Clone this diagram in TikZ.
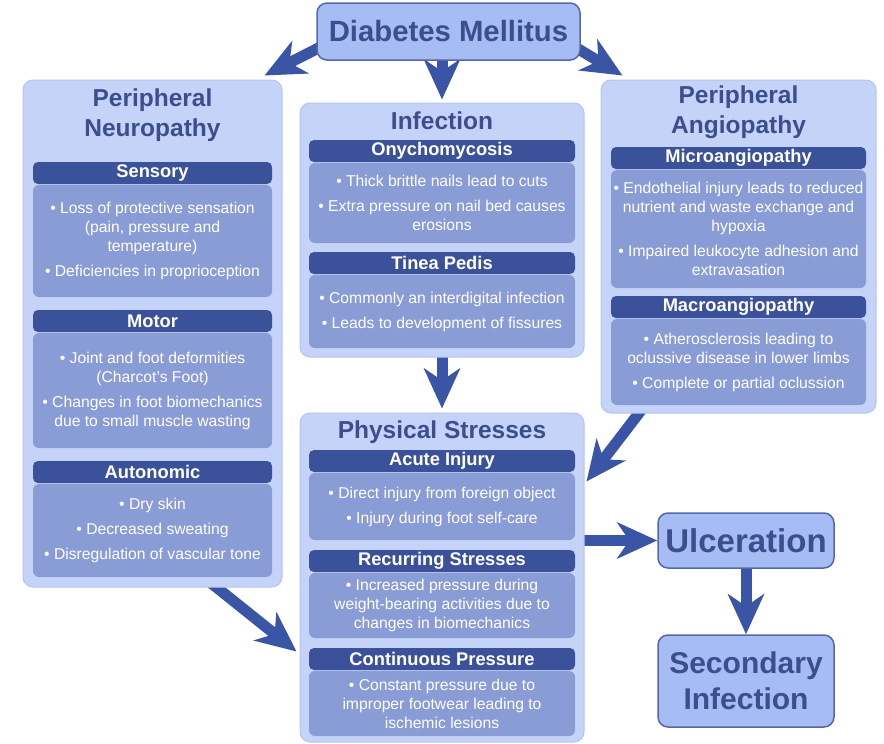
\documentclass[tikz,border=0pt]{standalone}
\usepackage{fontspec}
\setmainfont{Liberation Sans}
\usetikzlibrary{arrows.meta,calc,backgrounds}
\definecolor{panelfill}{HTML}{C4D3F7}
\definecolor{paneledge}{HTML}{B4C5EE}
\definecolor{hdrblue}{HTML}{3B529B}
\definecolor{bodyblue}{HTML}{8A9CD6}
\definecolor{boxfill}{HTML}{A6BCF4}
\definecolor{boxedge}{HTML}{5468A8}
\definecolor{titleblue}{HTML}{3C4E8E}
\definecolor{arrowblue}{HTML}{3A55A5}

\begin{document}
\begin{tikzpicture}[x=1pt, y=-1pt,
	panel/.style={fill=panelfill, draw=paneledge, line width=1pt, rounded corners=10pt, inner sep=0pt},
	ttl/.style={text=titleblue, font=\fontsize{24.5}{30}\selectfont\bfseries, align=center},
	hdr/.style={fill=hdrblue, text=white, rounded corners=5pt, minimum height=22pt, inner sep=0pt, font=\fontsize{18.3}{22}\selectfont\bfseries},
	body/.style={fill=bodyblue, text=white, rounded corners=6pt, inner sep=1pt, align=center, font=\fontsize{15.7}{19}\selectfont},
	bigbox/.style={fill=boxfill, draw=boxedge, line width=1.5pt, rounded corners=10pt, text=titleblue, align=center, inner sep=0pt},
	bigarrow/.style={draw=arrowblue, line width=11pt, -{Stealth[length=40pt, width=36pt, inset=12pt]}},
	leftcol/.style={minimum width=239pt},
	midcol/.style={minimum width=266pt},
	rightcol/.style={minimum width=255pt}]
	\useasboundingbox (0,0) rectangle (884,744);

	\node (dm) at (448.5,31.5) [bigbox, minimum width=263pt, minimum height=57pt, font=\fontsize{29.3}{35}\selectfont\bfseries] {Diabetes Mellitus};

	% peripheral neuropathy
	\node (neuro) at (152.5,333.5) [panel, minimum width=259pt, minimum height=507pt] {};
	\node (neurot) at (152.5,115) [ttl] {Peripheral\\Neuropathy};
		\node (sens) at (152.5,173) [hdr, leftcol] {Sensory};
		\node (sensb) at (152.5,241) [body, leftcol, minimum height=112pt] {• Loss of protective sensation\\(pain, pressure and\\temperature)\\[6pt]• Deficiencies in proprioception};
		\node (motor) at (152.5,321) [hdr, leftcol] {Motor};
		\node (motorb) at (152.5,390.5) [body, leftcol, minimum height=115pt] {• Joint and foot deformities\\(Charcot's Foot)\\[6pt]• Changes in foot biomechanics\\due to small muscle wasting};
		\node (auto) at (152.5,472) [hdr, leftcol] {Autonomic};
		\node (autob) at (152.5,530.5) [body, leftcol, minimum height=93pt] {• Dry skin\\[6pt]• Decreased sweating\\[6pt]• Disregulation of vascular tone};

	% infection
	\node (infect) at (442,230) [panel, minimum width=284pt, minimum height=254pt] {};
	\node (infectt) at (442,121) [ttl] {Infection};
		\node (ony) at (442,151) [hdr, midcol] {Onychomycosis};
		\node (onyb) at (442,203) [body, midcol, minimum height=80pt] {• Thick brittle nails lead to cuts\\[6pt]• Extra pressure on nail bed causes\\erosions};
		\node (tin) at (442,263) [hdr, midcol] {Tinea Pedis};
		\node (tinb) at (442,311.5) [body, midcol, minimum height=73pt] {• Commonly an interdigital infection\\[6pt]• Leads to development of fissures};

	% physical stresses
	\node (phys) at (442,577.5) [panel, minimum width=284pt, minimum height=329pt] {};
	\node (physt) at (442,432) [ttl] {Physical Stresses};
		\node (acu) at (442,461) [hdr, midcol] {Acute Injury};
		\node (acub) at (442,506.5) [body, midcol, minimum height=67pt] {• Direct injury from foreign object\\[6pt]• Injury during foot self-care};
		\node (rec) at (442,561) [hdr, midcol] {Recurring Stresses};
		\node (recb) at (442,605.5) [body, midcol, minimum height=65pt] {• Increased pressure during\\weight-bearing activities due to\\changes in biomechanics};
		\node (con) at (442,659) [hdr, midcol] {Continuous Pressure};
		\node (conb) at (442,703.5) [body, midcol, minimum height=65pt] {• Constant pressure due to\\improper footwear leading to\\ischemic lesions};

	% peripheral angiopathy
	\node (angio) at (738.5,246.5) [panel, minimum width=275pt, minimum height=333pt] {};
	\node (angiot) at (738.5,112) [ttl] {Peripheral\\Angiopathy};
		\node (mic) at (738.5,158) [hdr, rightcol] {Microangiopathy};
		\node (micb) at (738.5,229) [body, rightcol, minimum height=118pt] {• Endothelial injury leads to reduced\\nutrient and waste exchange and\\hypoxia\\[6pt]• Impaired leukocyte adhesion and\\extravasation};
		\node (mac) at (738.5,307) [hdr, rightcol] {Macroangiopathy};
		\node (macb) at (738.5,362) [body, rightcol, minimum height=86pt] {• Atherosclerosis leading to\\oclussive disease in lower limbs\\[6pt]• Complete or partial oclussion};

	\node (ulcer) at (746,540.5) [bigbox, minimum width=176pt, minimum height=55pt, font=\fontsize{33}{38}\selectfont\bfseries] {Ulceration};
	\node (secinf) at (746,681) [bigbox, minimum width=176pt, minimum height=92pt, font=\fontsize{30}{36}\selectfont\bfseries] {Secondary\\Infection};

	\begin{scope}[on background layer]
	\draw[bigarrow] ($(dm.west)+(15,10)$) to ($(neuro.north east)+(-18,-4)$);
	\draw[bigarrow] (dm.center -| infect.north) to ($(infect.north)+(0,-3)$);
	\draw[bigarrow] ($(dm.east)+(-15,10)$) to ($(angio.north west)+(22,-4)$);
	\draw[bigarrow] ($(infect.south)+(0,-5)$) to ($(phys.north)+(0,-4)$);
	\draw[bigarrow] ($(angio.south west)+(42,-5)$) to ($(phys.north east)+(2,69)$);
	\draw[bigarrow] ($(neuro.south east)+(-72,-5)$) to ($(phys.west)+(-3,74)$);
	\draw[bigarrow] ($(phys.east |- ulcer.west)+(-5,0)$) to (ulcer.west);
	\draw[bigarrow] ($(ulcer.south)+(0,-5)$) to (secinf.north);
	\end{scope}
\end{tikzpicture}
\end{document}
